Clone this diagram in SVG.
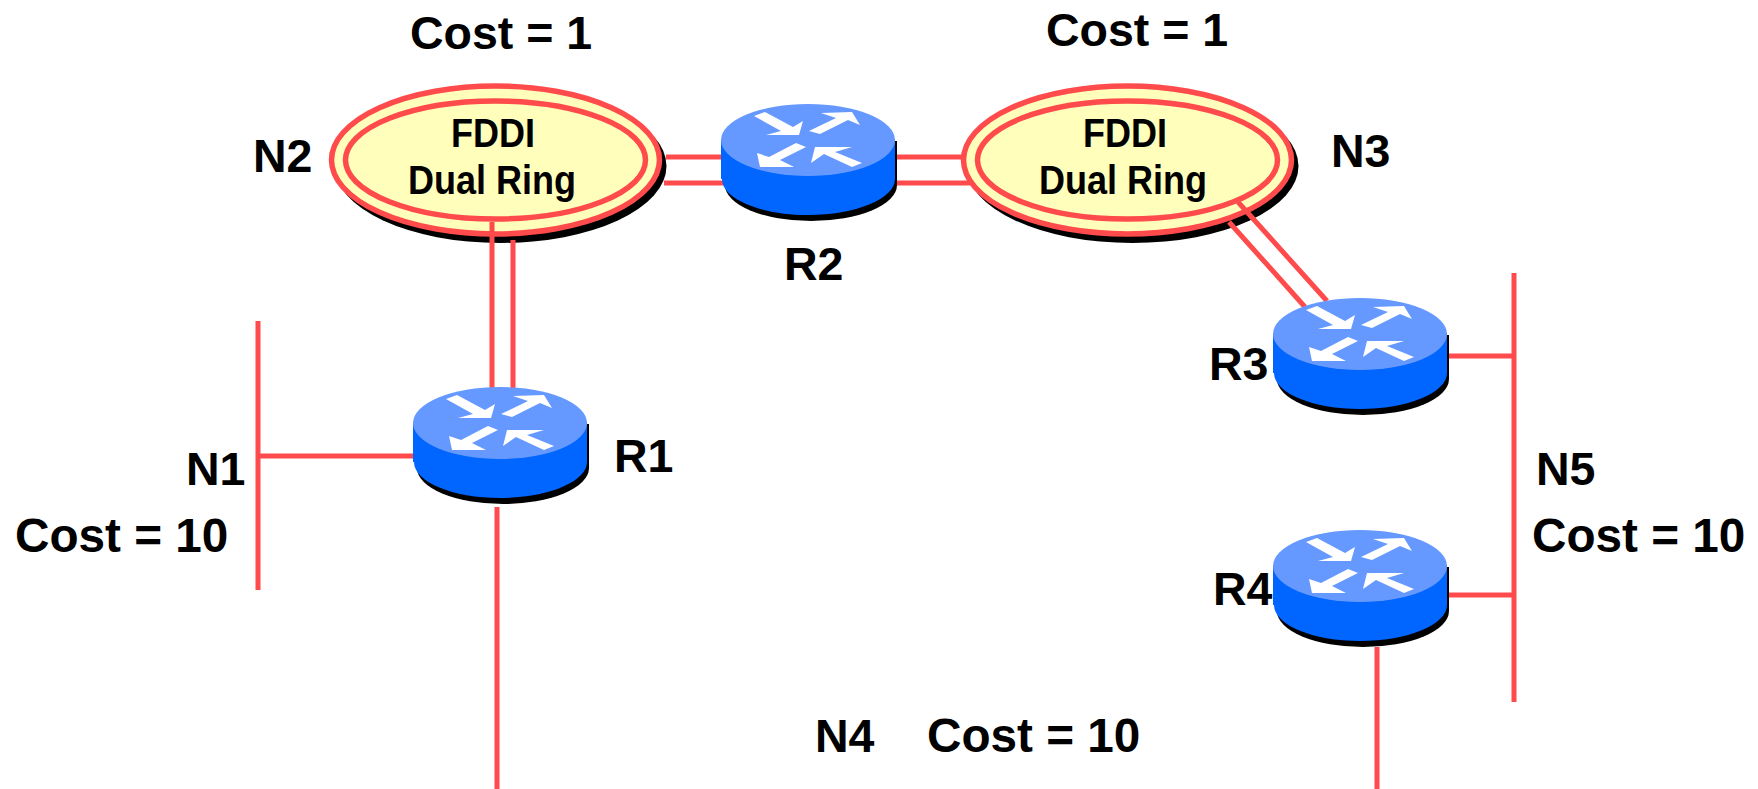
<svg xmlns="http://www.w3.org/2000/svg" width="1758" height="789" viewBox="0 0 1758 789">
<style>
.l{stroke:#FF4B4B;stroke-width:5;fill:none}
.t{font-family:"Liberation Sans",Arial,sans-serif;font-weight:700;font-size:46.5px;fill:#000}
.w{font-size:47.7px}
.f{font-family:"Liberation Sans",Arial,sans-serif;font-weight:700;font-size:40px;fill:#000}
</style>
<defs>
<g id="router">
<path d="M-82,0V44A86,36 0 0 0 90,44V0Z" fill="#000" transform="translate(-1,1)"/>
<path d="M-87,-1H87V39C87,59 47,75 0,75C-47,75 -86,59 -86,39H-87Z" fill="#0066FF"/>
<ellipse rx="87" ry="36" fill="#6699FF"/>
<g fill="#fff">
<polygon points="-54,-24 -43,-28 -15,-13 -5,-19 -9,-5 -42,-5 -27,-9"/>
<polygon points="1,-9 28,-22 13,-27 44,-28 52,-15 40,-20 12,-6"/>
<polygon points="-12,3 -2,7 -28,20 -14,27 -48,27 -51,13 -39,17"/>
<polygon points="54,23 44,27 16,14 3,23 7,7 44,7 27,12"/>
</g>
</g>
<g id="ring">
<ellipse cx="5" cy="6" rx="166" ry="77" fill="#000"/>
<ellipse rx="164" ry="74" fill="#FFFFBB" stroke="#FF4B4B" stroke-width="5.5"/>
<ellipse rx="150" ry="59" fill="none" stroke="#FF4B4B" stroke-width="5.5"/>
</g>
</defs>
<g id="N2"><use href="#ring" x="495.5" y="160"/>
<text class="f" x="451" y="147" textLength="84" lengthAdjust="spacingAndGlyphs">FDDI</text>
<text class="f" x="408" y="194" textLength="168" lengthAdjust="spacingAndGlyphs">Dual Ring</text>
<text class="t" x="253" y="172">N2</text></g>
<g id="N3"><use href="#ring" x="1127.5" y="160"/>
<text class="f" x="1083" y="147" textLength="84" lengthAdjust="spacingAndGlyphs">FDDI</text>
<text class="f" x="1039" y="194" textLength="168" lengthAdjust="spacingAndGlyphs">Dual Ring</text>
<text class="t" x="1331" y="167">N3</text></g>
<g id="connectors">
<path class="l" d="M492,222V392M513,240V392"/>
<path class="l" d="M497,507V789"/>
<path class="l" d="M258,321V590M258,456H415"/>
<path class="l" d="M666,157H725M664,183H725M890,157H962M890,183H970"/>
<path class="l" d="M1229,222L1305,307M1238,202L1327,301"/>
<path class="l" d="M1514,273V702M1446,356H1514M1446,595H1514"/>
<path class="l" d="M1377,647V789"/>
</g>
<g id="R1"><use href="#router" x="500" y="423"/><text class="t" x="614" y="472">R1</text></g>
<g id="R2"><use href="#router" x="808" y="140"/><text class="t" x="784" y="280">R2</text></g>
<g id="R3"><use href="#router" x="1360" y="334"/><text class="t" x="1209" y="380">R3</text></g>
<g id="R4"><use href="#router" x="1360" y="566"/><text class="t" x="1213" y="605">R4</text></g>
<g id="labels">
<text class="t" x="410" y="49">Cost = 1</text>
<text class="t" x="1046" y="46">Cost = 1</text>
<text class="t" x="186" y="485">N1</text>
<text class="t w" x="15" y="552">Cost = 10</text>
<text class="t" x="1536" y="485">N5</text>
<text class="t w" x="1532" y="552">Cost = 10</text>
<text class="t" x="815" y="752">N4</text>
<text class="t w" x="927" y="752">Cost = 10</text>
</g>
</svg>
